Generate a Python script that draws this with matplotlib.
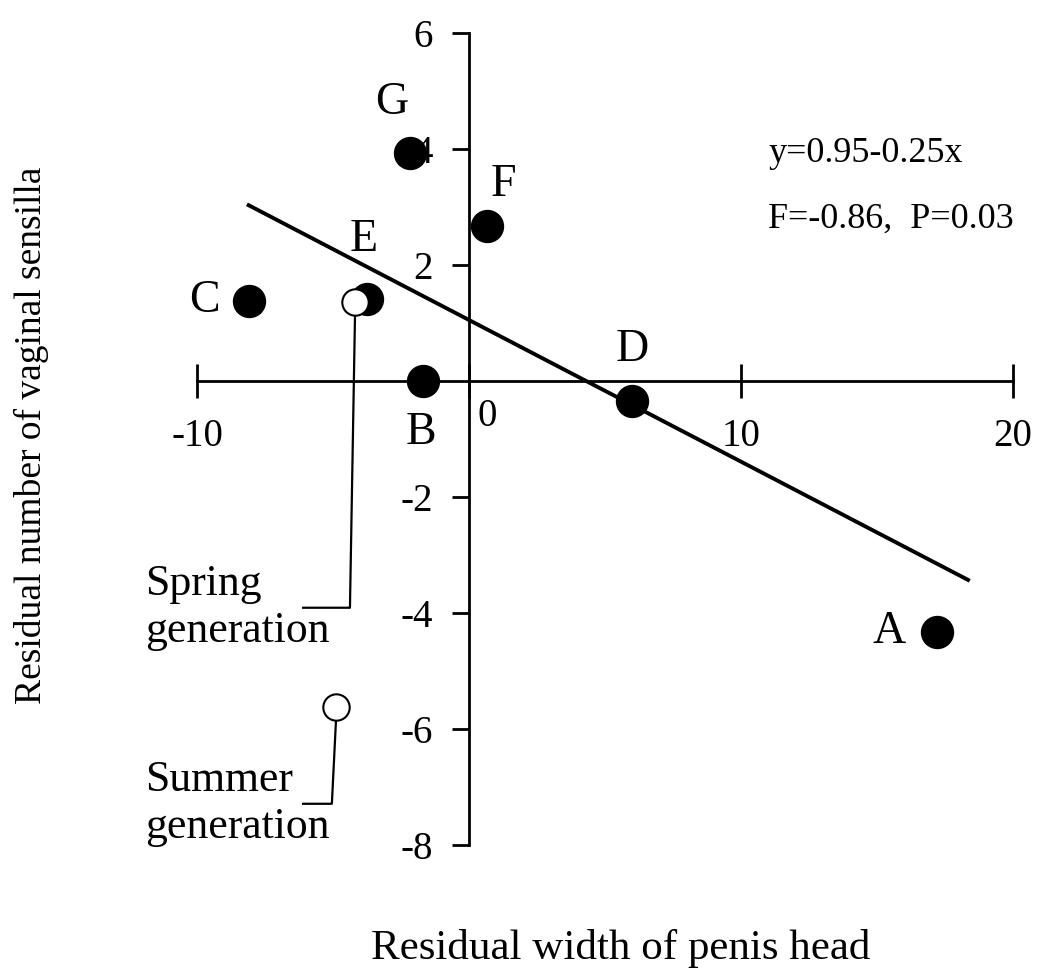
import numpy as np
import matplotlib
matplotlib.use("Agg")
import matplotlib.pyplot as plt
import matplotlib.transforms as mtransforms

plt.rcParams['font.family'] = ['Liberation Serif', 'DejaVu Serif']

# populations (filled)
pop_names = ['A', 'B', 'C', 'D', 'E', 'F', 'G']
pop_x = [17.2, -1.7, -8.1, 6.0, -3.75, 0.66, -2.17]
pop_y = [-4.33, 0.0, 1.38, -0.34, 1.41, 2.67, 3.93]

# generations (open circles)
gen_names = ['Spring\ngeneration', 'Summer\ngeneration']
gen_x = [-4.19, -4.89]
gen_y = [1.36, -5.62]

# regression line as drawn
line_x = [-8.1, 18.35]
line_y = [3.03, -3.43]
equation = 'y=0.95-0.25x'
stats_text = 'F=-0.86,  P=0.03'

xticks = [-10, 0, 10, 20]
yticks = [6, 4, 2, -2, -4, -6, -8]


def label_offsets():
    # text offsets (points) for the letter labels
    return {'A': (-34, 0), 'B': (-1, -37), 'C': (-32, 0), 'D': (0, 37),
            'E': (-2, 43), 'F': (12, 30), 'G': (-13, 36)}


def leader_layout():
    # (corner x, corner y) of each leader elbow, shared end x, text left x
    corners = [(-4.375, -3.91), (-5.04, -7.29)]
    return corners, -6.1, -11.9


def main():
    fig = plt.figure(figsize=(10.37, 9.72), dpi=100)
    ax = fig.add_axes([0.1637, 0.1128, 0.8393, 0.8712])
    ax.set_xlim(-11, 21)
    ax.set_ylim(-8.3, 6.3)

    for s in ['top', 'right']:
        ax.spines[s].set_visible(False)
    ax.spines['left'].set_position(('data', 0))
    ax.spines['bottom'].set_position(('data', 0))
    ax.spines['left'].set_bounds(-8, 6)
    ax.spines['bottom'].set_bounds(-10, 20)
    for s in ['left', 'bottom']:
        ax.spines[s].set_linewidth(2.0)

    ax.set_xticks(xticks)
    ax.set_xticklabels([str(v) for v in xticks])
    ax.tick_params(axis='x', direction='inout', length=24, width=2.0,
                   labelsize=28, pad=15)
    ax.set_yticks(yticks)
    ax.set_yticklabels([str(v) for v in yticks])
    ax.tick_params(axis='y', direction='out', length=12, width=2.0,
                   labelsize=28, pad=14)
    # end caps on y axis
    ax.set_yticks([6, -8], minor=True)
    ax.tick_params(axis='y', which='minor', direction='inout', length=24, width=2.0)
    ax.tick_params(axis='x', which='minor', length=0)

    # shift "0" label off the y axis
    for lab in ax.get_xticklabels():
        if lab.get_text() == '0':
            lab.set_transform(lab.get_transform() +
                              mtransforms.ScaledTranslation(0.18, 0.2, fig.dpi_scale_trans))

    ax.plot(line_x, line_y, color='black', lw=2.8, zorder=2)

    ax.plot(pop_x, pop_y, 'o', ms=23, color='black', zorder=3, clip_on=False)
    ax.plot(gen_x, gen_y, 'o', ms=19, mfc='white', mec='black', mew=1.5,
            zorder=4, clip_on=False)

    offs = label_offsets()
    for n, x, y in zip(pop_names, pop_x, pop_y):
        ax.annotate(n, (x, y), xytext=offs[n], textcoords='offset points',
                    ha='center', va='center', fontsize=33)

    # leader lines for the open circles
    corners, end_x, text_x = leader_layout()
    for n, x, y, (cx, cy) in zip(gen_names, gen_x, gen_y, corners):
        ax.plot([x, cx, end_x], [y - 0.25, cy, cy], color='black', lw=1.6, zorder=1)
        ax.text(text_x, cy, n, ha='left', va='center', fontsize=31.5,
                linespacing=1.22)

    ax.text(11.0, 3.93, equation, ha='left', va='center', fontsize=26)
    ax.text(11.0, 2.78, stats_text, ha='left', va='center', fontsize=26)

    fig.text(0.03, 1 - 435 / 972, 'Residual number of vaginal sensilla',
             rotation=90, ha='center', va='center', fontsize=27)
    fig.text(621 / 1037, 1 - 948 / 972, 'Residual width of penis head',
             ha='center', va='center', fontsize=31)

    fig.savefig('out.png', dpi=100)


if __name__ == "__main__":
    main()
